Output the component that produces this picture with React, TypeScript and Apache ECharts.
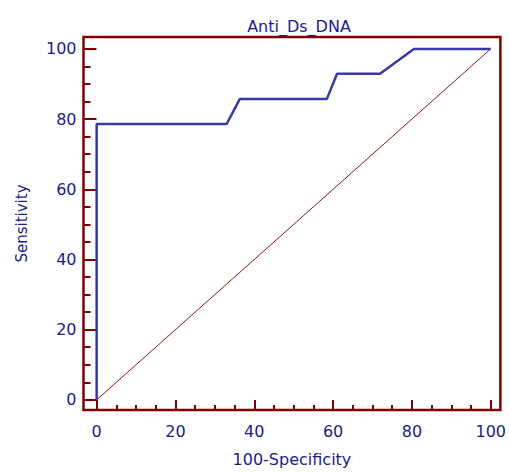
import React, { useEffect, useRef } from "react";
import * as echarts from "echarts";

const rocX = [0, 0, 33, 36.3, 58.4, 61, 71.9, 80.5, 100];
const rocY = [0, 78.6, 78.6, 85.7, 85.7, 92.9, 92.9, 100, 100];
const diagX = [0, 100];
const diagY = [0, 100];
const majorTicks = [0, 20, 40, 60, 80, 100];
const minorTicks = [5, 10, 15, 25, 30, 35, 45, 50, 55, 65, 70, 75, 85, 90, 95];

const MAROON = "#800000";
const NAVY = "#1c1c8c";
const BLUE = "#3a3aa6";
const FONT = "DejaVu Sans";

export default function App() {
  const ref = useRef<HTMLDivElement>(null);
  useEffect(() => {
    if (!ref.current) return;
    const chart = echarts.init(ref.current, undefined, { renderer: "svg" });
    const xMin = -3.34, xMax = 102.45, yMin = -2.9, yMax = 103.4;
    const label = { color: NAVY, fontSize: 16, fontFamily: FONT };
    chart.setOption({
      animation: false,
      backgroundColor: "#ffffff",
      title: {
        text: "Anti_Ds_DNA",
        left: 294,
        top: 13,
        textAlign: "center",
        textStyle: { color: NAVY, fontSize: 16, fontWeight: "normal", fontFamily: FONT },
      },
      grid: {
        left: 83.5,
        right: 7.3,
        top: 37,
        bottom: 60,
        show: true,
        borderColor: MAROON,
        borderWidth: 2.5,
        backgroundColor: "transparent",
      },
      xAxis: [
        {
          type: "value",
          min: xMin,
          max: xMax,
          position: "bottom",
          axisLine: { show: false, onZero: false },
          splitLine: { show: false },
          axisTick: { show: true, inside: true, length: 10, customValues: majorTicks, lineStyle: { color: MAROON, width: 2 } },
          axisLabel: { ...label, margin: 13, customValues: majorTicks },
          name: "100-Specificity",
          nameLocation: "middle",
          nameGap: 41,
          nameTextStyle: { ...label },
        },
        {
          type: "value",
          min: xMin,
          max: xMax,
          position: "bottom",
          axisLine: { show: false, onZero: false },
          splitLine: { show: false },
          axisTick: { show: true, inside: true, length: 5, customValues: minorTicks, lineStyle: { color: MAROON, width: 2 } },
          axisLabel: { show: false },
        },
      ],
      yAxis: [
        {
          type: "value",
          min: yMin,
          max: yMax,
          position: "left",
          axisLine: { show: false, onZero: false },
          splitLine: { show: false },
          axisTick: { show: true, inside: true, length: 13, customValues: majorTicks, lineStyle: { color: MAROON, width: 2 } },
          axisLabel: { ...label, margin: 7, customValues: majorTicks },
          name: "Sensitivity",
          nameLocation: "middle",
          nameGap: 54,
          nameRotate: 90,
          nameTextStyle: { ...label, fontSize: 15 },
        },
        {
          type: "value",
          min: yMin,
          max: yMax,
          position: "left",
          axisLine: { show: false, onZero: false },
          splitLine: { show: false },
          axisTick: { show: true, inside: true, length: 7, customValues: minorTicks, lineStyle: { color: MAROON, width: 2 } },
          axisLabel: { show: false },
        },
      ],
      series: [
        {
          type: "line",
          data: diagX.map((x, i) => [x, diagY[i]]),
          showSymbol: false,
          symbol: "none",
          lineStyle: { color: "#8b1a1a", width: 1 },
          z: 2,
        },
        {
          type: "line",
          data: rocX.map((x, i) => [x, rocY[i]]),
          showSymbol: false,
          symbol: "none",
          lineStyle: { color: BLUE, width: 2.5 },
          z: 3,
        },
      ],
    });
    return () => chart.dispose();
  }, []);
  return (
    <div
      ref={ref}
      style={{ position: "absolute", left: 0, top: 0, width: 509, height: 472 }}
    />
  );
}
